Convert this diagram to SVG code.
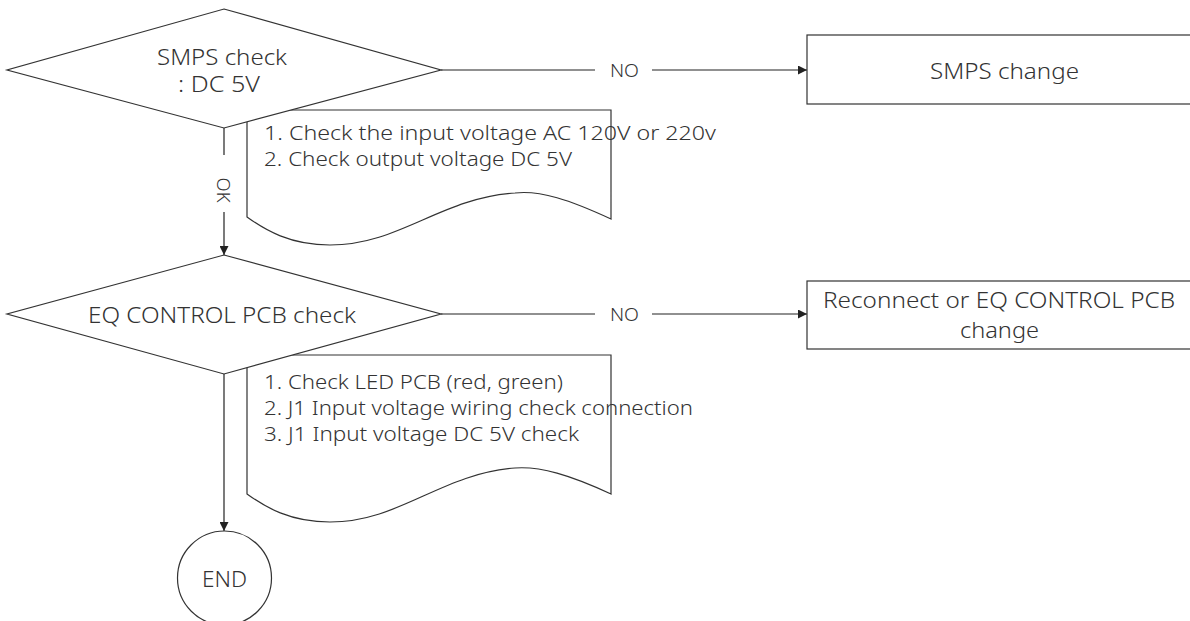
<svg xmlns="http://www.w3.org/2000/svg" width="1190" height="621" viewBox="0 0 1190 621">
<defs>
<marker id="arr" viewBox="0 0 10 10" refX="10" refY="5" markerWidth="9" markerHeight="9" markerUnits="userSpaceOnUse" orient="auto">
<path d="M0,0 L10,5 L0,10 Z" fill="#222"/>
</marker>
<style>
.s{fill:#fff;stroke:#333;stroke-width:1.2}
.c{fill:none;stroke:#222;stroke-width:1.2}
text{font-family:"Noto Sans","Liberation Sans",sans-serif;fill:#333;font-weight:300}
.t{font-size:22px;text-anchor:middle;dominant-baseline:central}
.t2{font-size:21px;text-anchor:middle;dominant-baseline:central}
.n{font-size:20px;dominant-baseline:central}
.l{font-size:18px;text-anchor:middle;dominant-baseline:central}
</style>
</defs>
<rect width="1190" height="621" fill="#fff"/>
<g id="note1">
<path class="s" d="M247,217 L247,110 L611,110 L611,219 C570,200 540,190 515,193 C440,198 400,245 330,245 C290,245 265,230 247,217 Z"/>
<text class="n" x="264" y="132" textLength="452" lengthAdjust="spacingAndGlyphs">1. Check the input voltage AC 120V or 220v</text>
<text class="n" x="264" y="158" textLength="308" lengthAdjust="spacingAndGlyphs">2. Check output voltage DC 5V</text>
</g>
<g id="note2">
<path class="s" d="M247,494 L247,355 L611,355 L611,494 C570,475 540,466 515,468 C440,474 400,522 330,522 C290,522 265,507 247,494 Z"/>
<text class="n" x="264" y="381" textLength="299" lengthAdjust="spacingAndGlyphs">1. Check LED PCB (red, green)</text>
<text class="n" x="264" y="407" textLength="429" lengthAdjust="spacingAndGlyphs">2. J1 Input voltage wiring check connection</text>
<text class="n" x="264" y="433" textLength="315" lengthAdjust="spacingAndGlyphs">3. J1 Input voltage DC 5V check</text>
</g>
<g id="connectors">
<line class="c" x1="224" y1="128" x2="224" y2="155"/>
<line class="c" x1="224" y1="212" x2="224" y2="255" marker-end="url(#arr)"/>
<text class="l" transform="translate(224,190) rotate(90)" textLength="25" lengthAdjust="spacingAndGlyphs">OK</text>
<line class="c" x1="441" y1="70" x2="595" y2="70"/>
<line class="c" x1="652" y1="70" x2="807" y2="70" marker-end="url(#arr)"/>
<text class="l" x="624.5" y="70" textLength="29" lengthAdjust="spacingAndGlyphs">NO</text>
<line class="c" x1="441" y1="314" x2="595" y2="314"/>
<line class="c" x1="652" y1="314" x2="807" y2="314" marker-end="url(#arr)"/>
<text class="l" x="624.5" y="314" textLength="29" lengthAdjust="spacingAndGlyphs">NO</text>
<line class="c" x1="224" y1="374" x2="224" y2="531" marker-end="url(#arr)"/>
</g>
<g id="smps-check">
<polygon class="s" points="224,9 441,70 224,128 7,70"/>
<text class="t2" x="222" y="57" textLength="130" lengthAdjust="spacingAndGlyphs">SMPS check</text>
<text class="t2" x="219" y="84" textLength="82" lengthAdjust="spacingAndGlyphs">: DC 5V</text>
</g>
<g id="smps-change">
<rect class="s" x="807" y="35" width="390" height="69"/>
<text class="t" x="1004.5" y="70" textLength="149" lengthAdjust="spacingAndGlyphs">SMPS change</text>
</g>
<g id="eq-check">
<polygon class="s" points="224,255 441,314 224,374 7,314"/>
<text class="t" x="222" y="314" textLength="268" lengthAdjust="spacingAndGlyphs">EQ CONTROL PCB check</text>
</g>
<g id="eq-change">
<rect class="s" x="807" y="281" width="390" height="68"/>
<text class="t2" x="999" y="300" textLength="352" lengthAdjust="spacingAndGlyphs">Reconnect or EQ CONTROL PCB</text>
<text class="t2" x="999.5" y="330" textLength="79" lengthAdjust="spacingAndGlyphs">change</text>
</g>
<g id="end">
<circle class="s" cx="224.5" cy="578" r="47"/>
<text class="t" x="224.5" y="578" textLength="45" lengthAdjust="spacingAndGlyphs">END</text>
</g>
</svg>
